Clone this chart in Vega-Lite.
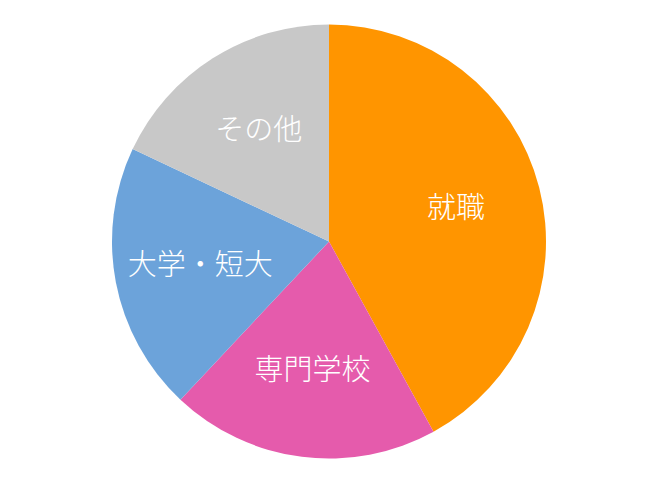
{
  "$schema": "https://vega.github.io/schema/vega-lite/v6.json",
  "autosize": {"type": "fit", "contains": "padding"},
  "width": 658,
  "height": 483,
  "padding": 0,
  "background": "white",
  "data": {
    "values": [
      {"区分": "就職", "割合": 42, "順": 1},
      {"区分": "専門学校", "割合": 20, "順": 2},
      {"区分": "大学・短大", "割合": 20, "順": 3},
      {"区分": "その他", "割合": 18, "順": 4}
    ]
  },
  "encoding": {
    "theta": {"field": "割合", "type": "quantitative", "stack": true},
    "order": {"field": "順", "type": "quantitative"},
    "color": {
      "field": "区分",
      "type": "nominal",
      "legend": null,
      "scale": {
        "domain": ["就職", "専門学校", "大学・短大", "その他"],
        "range": ["#FF9500", "#E55BAC", "#6CA3DA", "#C8C8C8"]
      }
    }
  },
  "layer": [
    {"mark": {"type": "arc", "outerRadius": 217}},
    {
      "mark": {
        "type": "text",
        "radius": 131,
        "fontSize": 29,
        "fontWeight": 300,
        "font": "Noto Sans CJK JP",
        "fill": "white"
      },
      "encoding": {
        "text": {"field": "区分"},
        "color": {"value": "white"}
      }
    }
  ],
  "config": {"view": {"stroke": null}}
}
